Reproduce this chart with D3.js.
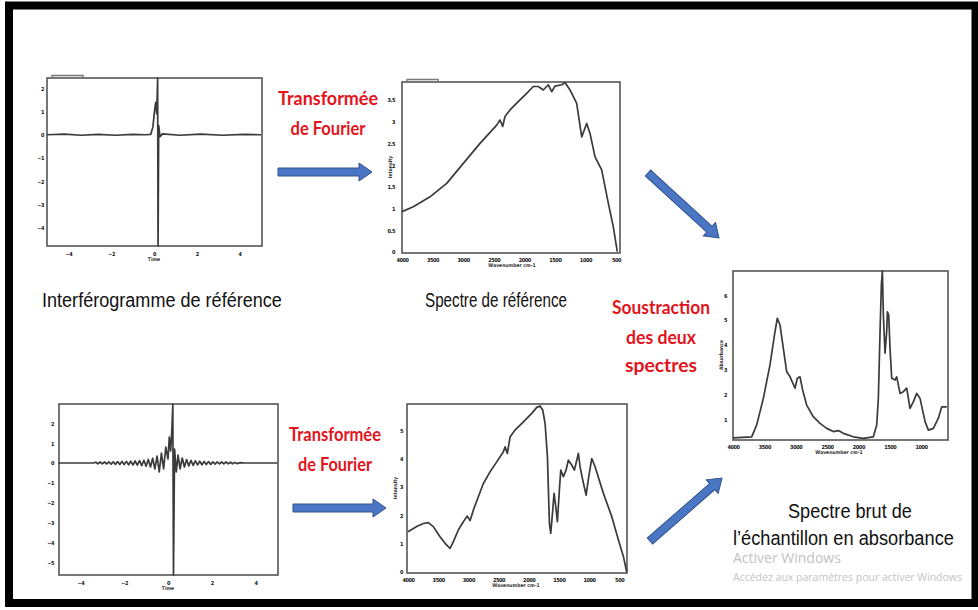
<!DOCTYPE html>
<html>
<head>
<meta charset="utf-8">
<script src="https://cdn.jsdelivr.net/npm/d3@7"></script>
<style>
  body { margin: 0; background: #fff; }
</style>
</head>
<body>
<div id="chart"></div>
<script>
// ---- données ----
// interférogramme de référence (temps, signal)
const refInterferogram = [
  [-5, 0], [-4.2, 0.03], [-3.4, -0.02], [-2.6, 0.02], [-1.8, -0.02], [-1, 0.02],
  [-0.4, 0], [-0.15, 0.02], [-0.05, 0.35], [0.02, 1.0], [0.08, 1.4], [0.13, 0.9],
  [0.17, 2.45], [0.19, -4.8], [0.22, 0.4], [0.28, -0.08], [0.4, 0.04], [1.2, -0.02],
  [2.2, 0.03], [3.2, -0.02], [4.2, 0.02], [5, 0]
]

// interférogramme de l'échantillon
const sampleInterferogram = [
  [-5, 0], [-3.4, 0], [-3.3, 0.04], [-3.2, -0.04], [-3.1, 0.05], [-3.0, -0.05],
  [-2.9, 0.05], [-2.8, -0.05], [-2.7, 0.06], [-2.6, -0.06], [-2.5, 0.06], [-2.4, -0.07],
  [-2.3, 0.07], [-2.2, -0.07], [-2.1, 0.08], [-2.0, -0.08], [-1.9, 0.08], [-1.8, -0.09],
  [-1.7, 0.09], [-1.6, -0.1], [-1.5, 0.1], [-1.4, -0.11], [-1.3, 0.12], [-1.2, -0.13],
  [-1.1, 0.14], [-1.0, -0.16], [-0.9, 0.18], [-0.8, -0.2], [-0.7, 0.24], [-0.6, -0.3],
  [-0.5, 0.35], [-0.4, -0.45], [-0.3, 0.5], [-0.2, -0.3], [-0.1, 0.8], [0.0, 0.2],
  [0.06, 1.3], [0.12, 0.6], [0.18, 1.75], [0.22, 2.95], [0.25, -5.63], [0.3, 0.7],
  [0.38, -0.45], [0.46, 0.4], [0.55, -0.3], [0.65, 0.25], [0.75, -0.2], [0.85, 0.17],
  [0.95, -0.15], [1.05, 0.13], [1.15, -0.12], [1.25, 0.11], [1.35, -0.1], [1.45, 0.09],
  [1.55, -0.09], [1.65, 0.08], [1.75, -0.08], [1.85, 0.07], [1.95, -0.07], [2.05, 0.06],
  [2.15, -0.06], [2.25, 0.06], [2.35, -0.05], [2.45, 0.05], [2.55, -0.05], [2.65, 0.05],
  [2.75, -0.04], [2.85, 0.04], [2.95, -0.04], [3.05, 0.03], [3.15, -0.03], [3.3, 0.02],
  [3.5, 0], [5, 0]
]

// spectre de référence (nombre d'onde, intensité)
const refSpectrum = [
  [4000, 0.93], [3815, 1.04], [3542, 1.27], [3269, 1.58], [2997, 2.04], [2724, 2.5],
  [2451, 2.92], [2397, 3.04], [2353, 2.89], [2316, 3.12], [2234, 3.27], [2070, 3.5],
  [1961, 3.65], [1853, 3.81], [1771, 3.81], [1689, 3.73], [1607, 3.85], [1552, 3.69],
  [1498, 3.82], [1388, 3.85], [1334, 3.9], [1252, 3.73], [1143, 3.42], [1061, 2.65],
  [979, 2.96], [925, 2.73], [843, 2.19], [734, 1.89], [625, 1.12], [544, 0.58], [479, 0.01]
]

// spectre de l'échantillon
const sampleSpectrum = [
  [4000, 1.42], [3856, 1.6], [3746, 1.71], [3663, 1.74], [3580, 1.6], [3469, 1.24],
  [3386, 1.01], [3303, 0.83], [3248, 1.07], [3166, 1.48], [3083, 1.77], [3017, 1.97],
  [2972, 1.81], [2917, 2.18], [2834, 2.65], [2751, 3.12], [2640, 3.53], [2529, 3.88],
  [2419, 4.24], [2391, 4.41], [2353, 4.18], [2308, 4.76], [2226, 5.0], [2087, 5.29],
  [1949, 5.59], [1866, 5.8], [1811, 5.85], [1766, 5.7], [1728, 5.24], [1689, 4.06],
  [1656, 1.71], [1634, 1.36], [1601, 2.18], [1579, 2.77], [1551, 2.3], [1524, 1.77],
  [1491, 2.89], [1468, 3.59], [1425, 3.36], [1380, 3.59], [1342, 3.94], [1286, 3.77],
  [1242, 3.59], [1203, 3.94], [1176, 4.18], [1148, 3.71], [1104, 3.24], [1048, 2.71],
  [1004, 3.36], [954, 4.0], [899, 3.71], [761, 2.77], [622, 1.95], [512, 1.13],
  [429, 0.54], [375, 0]
]

// spectre brut en absorbance
const absorbance = [
  [4000, 0.25], [3702, 0.29], [3622, 0.77], [3516, 1.84], [3410, 3.19], [3330, 4.53],
  [3293, 5.07], [3250, 4.8], [3197, 3.86], [3144, 2.92], [3090, 2.71], [3011, 2.25],
  [2974, 2.65], [2931, 2.71], [2889, 2.18], [2825, 1.57], [2719, 1.1], [2612, 0.83],
  [2505, 0.63], [2399, 0.5], [2319, 0.54], [2240, 0.43], [2080, 0.29], [1921, 0.23],
  [1761, 0.29], [1707, 0.77], [1681, 1.84], [1654, 4.53], [1633, 6.41], [1617, 6.98],
  [1601, 5.2], [1575, 3.66], [1548, 4.53], [1537, 5.33], [1516, 5.2], [1495, 3.86],
  [1468, 2.65], [1415, 2.58], [1388, 2.71], [1335, 2.04], [1282, 2.11], [1229, 2.25],
  [1176, 1.44], [1122, 1.71], [1069, 2.04], [1016, 1.84], [936, 0.9], [883, 0.56],
  [803, 0.63], [724, 1.04], [670, 1.5], [590, 1.5]
]

// graduations
const timeTicks = [-4, -2, 0, 2, 4]
const refInterfYTicks = [2, 1, 0, -1, -2, -3, -4]
const sampleInterfYTicks = [2, 1, 0, -1, -2, -3, -4, -5]
const spectrumXTicks = [4000, 3500, 3000, 2500, 2000, 1500, 1000, 500]
const refSpectrumYTicks = [0, 0.5, 1, 1.5, 2, 2.5, 3, 3.5]
const sampleSpectrumYTicks = [0, 1, 2, 3, 4, 5]
const absXTicks = [4000, 3500, 3000, 2500, 2000, 1500, 1000]
const absYTicks = [1, 2, 3, 4, 5, 6]

// textes
const stepFourier = ["Transformée", "de Fourier"]
const stepSubtraction = ["Soustraction", "des deux", "spectres"]
const captionRefInterf = "Interférogramme de référence"
const captionRefSpectrum = "Spectre de référence"
const captionResult = ["Spectre brut de", "l’échantillon en absorbance"]
const watermark = ["Activer Windows", "Accédez aux paramètres pour activer Windows"]

// ---- dessin ----
const W = 978, H = 610

const svg = d3.select("#chart")
  .append("svg")
    .attr("width", W)
    .attr("height", H)

svg.append("rect").attr("width", W).attr("height", H).attr("fill", "#fff")

const panels = [
  { data: refInterferogram, frame: [47, 78, 262, 246], xd: [-5, 5], xr: [47, 261],
    yd: [-4.8, 2.45], yr: [246, 78], xt: timeTicks, yt: refInterfYTicks,
    xlabY: 254, ylabX: 44, tab: true, xTitle: "Time", xTitlePos: [154, 261] },
  { data: refSpectrum, frame: [402, 82, 620, 253], xd: [4000, 500], xr: [402, 616],
    yd: [0, 3.9], yr: [252, 82.6], xt: spectrumXTicks, yt: refSpectrumYTicks,
    xlabY: 260, ylabX: 395, tab: true, xTitle: "Wavenumber cm-1", xTitlePos: [512, 267],
    yTitle: "Intensity", yTitlePos: [392, 167] },
  { data: absorbance, frame: [733, 271, 948, 440], xd: [4000, 570], xr: [733, 948],
    yd: [0, 7], yr: [444, 270.4], xt: absXTicks, yt: absYTicks,
    xlabY: 447, ylabX: 727, tab: false, xTitle: "Wavenumber cm-1", xTitlePos: [839, 454],
    yTitle: "Absorbance", yTitlePos: [723, 355] },
  { data: sampleInterferogram, frame: [59, 404, 278, 575], xd: [-5, 5], xr: [58.5, 277.5],
    yd: [-5.63, 2.95], yr: [575, 404.3], xt: timeTicks, yt: sampleInterfYTicks,
    xlabY: 583, ylabX: 54, tab: false, xTitle: "Time", xTitlePos: [168, 590] },
  { data: sampleSpectrum, frame: [407, 404, 627, 573], xd: [4000, 375], xr: [408, 626.7],
    yd: [0, 5.92], yr: [572, 404], xt: spectrumXTicks, yt: sampleSpectrumYTicks,
    xlabY: 580, ylabX: 403, tab: false, xTitle: "Wavenumber cm-1", xTitlePos: [516, 587],
    yTitle: "Intensity", yTitlePos: [397, 488] }
]

const tickFont = "'DejaVu Sans Condensed', 'Liberation Sans', sans-serif"

panels.forEach(p => {
  const g = svg.append("g")
  const [fx0, fy0, fx1, fy1] = p.frame

  const x = d3.scaleLinear().domain(p.xd).range(p.xr)
  const y = d3.scaleLinear().domain(p.yd).range(p.yr)

  // cadre
  g.append("rect")
    .attr("x", fx0).attr("y", fy0)
    .attr("width", fx1 - fx0).attr("height", fy1 - fy0)
    .attr("fill", "none")
    .attr("stroke", "#555")
    .attr("stroke-width", 1.6)

  if (p.tab) {
    g.append("path")
      .attr("d", `M${fx0 + 5},${fy0} V${fy0 - 2.5} H${fx0 + 36} V${fy0}`)
      .attr("fill", "none")
      .attr("stroke", "#777")
      .attr("stroke-width", 1.4)
  }

  // axes (étiquettes minuscules, comme dans l'image)
  const ax = g.append("g")
    .attr("transform", `translate(0,${p.xlabY})`)
    .call(d3.axisBottom(x).tickValues(p.xt).tickSize(0).tickPadding(0).tickFormat(d3.format("")))
  const ay = g.append("g")
    .attr("transform", `translate(${p.ylabX},0)`)
    .call(d3.axisLeft(y).tickValues(p.yt).tickSize(0).tickPadding(0).tickFormat(d3.format("")))

  ;[ax, ay].forEach(a => {
    a.select(".domain").remove()
    a.selectAll("text")
      .attr("y", null).attr("dy", "0.35em")
      .style("font-family", tickFont)
      .style("font-size", "5.5px")
      .style("font-weight", "bold")
      .style("letter-spacing", "-0.4px")
      .attr("fill", "#111")
  })
  ax.selectAll("text").attr("x", 0)
  ay.selectAll("text").attr("x", 0).attr("text-anchor", "end")

  g.append("text")
    .attr("x", p.xTitlePos[0]).attr("y", p.xTitlePos[1])
    .attr("text-anchor", "middle")
    .style("font-family", tickFont)
    .style("font-size", "5px")
    .style("font-weight", "bold")
    .attr("fill", "#333")
    .text(p.xTitle)

  if (p.yTitle) {
    g.append("text")
      .attr("transform", `translate(${p.yTitlePos[0]},${p.yTitlePos[1]}) rotate(-90)`)
      .attr("text-anchor", "middle")
      .style("font-family", tickFont)
      .style("font-size", "5px")
      .style("font-weight", "bold")
      .attr("fill", "#333")
      .text(p.yTitle)
  }

  // courbe
  g.append("path")
    .datum(p.data)
    .attr("d", d3.line().x(d => x(d[0])).y(d => y(d[1])))
    .attr("fill", "none")
    .attr("stroke", "#3a3a3a")
    .attr("stroke-width", 1.7)
    .attr("stroke-linejoin", "round")
})

// flèches bleues
function arrow(x0, y0, x1, y1) {
  const L = Math.hypot(x1 - x0, y1 - y0)
  const ang = Math.atan2(y1 - y0, x1 - x0) * 180 / Math.PI
  const hl = 13, sh = 4, hh = 9
  const pts = [[0, -sh], [L - hl, -sh], [L - hl, -hh], [L, 0], [L - hl, hh], [L - hl, sh], [0, sh]]
  svg.append("path")
    .attr("transform", `translate(${x0},${y0}) rotate(${ang})`)
    .attr("d", d3.line()(pts) + "Z")
    .attr("fill", "#4a76c4")
    .attr("stroke", "#2f528f")
    .attr("stroke-width", 1)
}
arrow(278, 172, 372, 172)
arrow(293, 508, 386, 508)
arrow(648, 173, 719, 238)
arrow(650, 541, 722, 478)

// textes rouges
function redLines(lines, cx, baselines, widths) {
  lines.forEach((t, i) => {
    svg.append("text")
      .attr("x", cx).attr("y", baselines[i])
      .attr("text-anchor", "middle")
      .attr("textLength", widths[i])
      .attr("lengthAdjust", "spacingAndGlyphs")
      .style("font-family", "Lato, 'Open Sans', sans-serif")
      .style("font-weight", "bold")
      .style("font-size", "18px")
      .attr("fill", "#e3131c")
      .text(t)
  })
}
redLines(stepFourier, 328, [105, 135], [100, 75])
redLines(stepFourier, 335, [441, 471], [92, 74])
redLines(stepSubtraction, 661, [314, 344, 372], [98, 70, 72])

// légendes noires : police étroite obtenue par une mise à l'échelle horizontale
function blackText(t, x0, x1, y) {
  const g = svg.append("g")
  const txt = g.append("text")
    .attr("x", 0).attr("y", 0)
    .style("font-family", "'Liberation Sans', Arial, sans-serif")
    .style("font-size", "21px")
    .attr("fill", "#111")
    .text(t)
  const natural = txt.node().getComputedTextLength()
  const sx = (x1 - x0) / natural
  g.attr("transform", `translate(${x0},${y}) scale(${sx},1)`)
}
blackText(captionRefInterf, 42, 282, 307)
blackText(captionRefSpectrum, 425, 567, 307)
blackText(captionResult[0], 788, 912, 518)
blackText(captionResult[1], 733, 954, 545)

// filigrane
svg.append("text")
  .attr("x", 733).attr("y", 563)
  .style("font-family", "'Open Sans', 'Noto Sans', sans-serif")
  .style("font-size", "14px")
  .attr("fill", "#c2c2c2")
  .text(watermark[0])
svg.append("text")
  .attr("x", 733).attr("y", 581)
  .style("font-family", "'Open Sans', 'Noto Sans', sans-serif")
  .style("font-size", "10.5px")
  .attr("fill", "#c4c4c4")
  .text(watermark[1])

// cadre extérieur noir
svg.append("rect")
  .attr("x", 9).attr("y", 5.5)
  .attr("width", 966.5).attr("height", 597.5)
  .attr("fill", "none")
  .attr("stroke", "#000")
  .attr("stroke-width", 8)
</script>
</body>
</html>
